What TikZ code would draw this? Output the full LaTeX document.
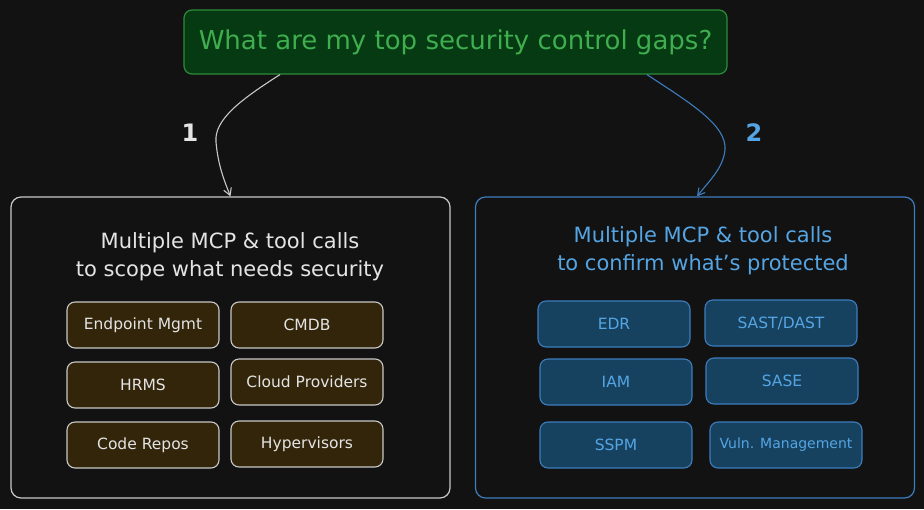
\documentclass[tikz,border=0pt]{standalone}
\usepackage{fontspec}
\setmainfont{DejaVu Sans}
\usetikzlibrary{arrows.meta}

\definecolor{bg}{HTML}{121212}
\definecolor{qfill}{HTML}{053A12}
\definecolor{qline}{HTML}{2E8B3A}
\definecolor{qtext}{HTML}{3FAE4F}
\definecolor{grayline}{HTML}{C8C8C8}
\definecolor{graytext}{HTML}{E4E4E4}
\definecolor{brownfill}{HTML}{33250A}
\definecolor{blueline}{HTML}{3D7DBE}
\definecolor{bluefill}{HTML}{16425F}
\definecolor{bluetext}{HTML}{55A5E4}

\tikzstyle{panel}=[rounded corners=10pt, minimum width=439pt, minimum height=301pt, line width=1.2pt, fill=bg]
\tikzstyle{scope}=[panel, draw=grayline]
\tikzstyle{prot}=[panel, draw=blueline]
\tikzstyle{tool}=[rounded corners=8pt, minimum width=152pt, minimum height=46pt, line width=1.1pt, font=\fontsize{15.5}{18}\selectfont]
\tikzstyle{src}=[tool, draw=grayline, fill=brownfill, text=graytext]
\tikzstyle{ctl}=[tool, draw=blueline, fill=bluefill, text=bluetext]
\tikzstyle{flow}=[line width=1.1pt, -{Straight Barb[length=7pt, width=8pt]}]

\begin{document}
\begin{tikzpicture}[x=1pt, y=-1pt]
  \fill[bg] (0,0) rectangle (924,509);
  \useasboundingbox (0,0) rectangle (924,509);

  \node[rounded corners=8pt, draw=qline, fill=qfill, line width=1.2pt, minimum width=543pt, minimum height=64pt,
        text=qtext, font=\fontsize{26}{30}\selectfont] (question) at (455.5, 42) {What are my top security control gaps?};

  \node[scope] (left)  at (230.5, 347.5) {};
  \node[prot]  (right) at (695, 347.5) {};

  \node[text=graytext, align=center, font=\fontsize{21}{28}\selectfont] (lhead) at (230, 257) {Multiple MCP \& tool calls\\to scope what needs security};
  \node[text=bluetext, align=center, font=\fontsize{21}{28}\selectfont] (rhead) at (703, 251) {Multiple MCP \& tool calls\\to confirm what's protected};

  \node[src] (epm)   at (143, 325) {Endpoint Mgmt};
  \node[src] (cmdb)  at (307, 325) {CMDB};
  \node[src] (hrms)  at (143, 385) {HRMS};
  \node[src] (cloud) at (307, 382) {Cloud Providers};
  \node[src] (repo)  at (143, 445) {Code Repos};
  \node[src] (hyp)   at (307, 444) {Hypervisors};

  \node[ctl] (edr)  at (614, 324) {EDR};
  \node[ctl] (sast) at (781, 323) {SAST/DAST};
  \node[ctl] (iam)  at (616, 382) {IAM};
  \node[ctl] (sase) at (782, 381) {SASE};
  \node[ctl] (sspm) at (616, 445) {SSPM};
  \node[ctl, font=\fontsize{14}{16}\selectfont] (vuln) at (786, 445) {Vuln. Management};

  \draw[flow, grayline] ([xshift=-175.5pt]question.south) .. controls (240,100) and (214,120) .. (216,142)
        .. controls (218,165) and (224,180) .. (left.north);
  \draw[flow, blueline] ([xshift=191.5pt]question.south) .. controls (690,103) and (727,125) .. (725,150)
        .. controls (723,168) and (710,180) .. ([xshift=2pt]right.north);

  \node[text=graytext, font=\fontsize{24}{26}\selectfont\bfseries] (one) at (190, 133) {1};
  \node[text=bluetext, font=\fontsize{24}{26}\selectfont\bfseries] (two) at (754, 133) {2};
\end{tikzpicture}
\end{document}
